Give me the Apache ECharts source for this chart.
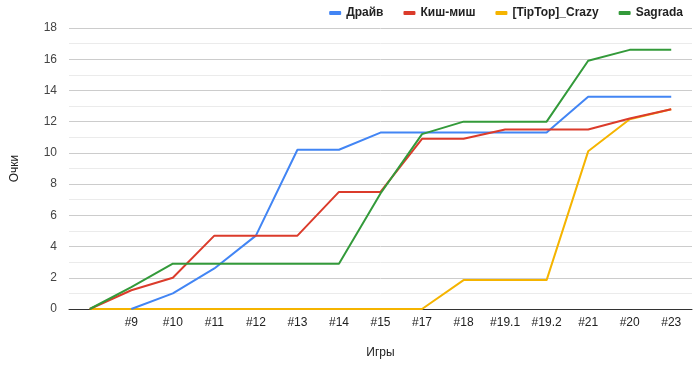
<!DOCTYPE html>
<html><head><meta charset="utf-8">
<script src="https://cdn.jsdelivr.net/npm/echarts@6/dist/echarts.min.js"></script>
<style>html,body{margin:0;padding:0;background:#fff}#c{width:700px;height:370px}</style>
</head><body><div id="c"></div>
<script>
var categories = ["", "#9", "#10", "#11", "#12", "#13", "#14", "#15", "#17", "#18", "#19.1", "#19.2", "#21", "#20", "#23"];
var seriesNames = ["Драйв", "Киш-миш", "[TipTop]_Crazy", "Sagrada"];
var drive   = [null, 0, 1.0, 2.6, 4.7, 10.2, 10.2, 11.3, 11.3, 11.3, 11.3, 11.3, 13.6, 13.6, 13.6];
var kishmish= [0, 1.2, 2.0, 4.7, 4.7, 4.7, 7.5, 7.5, 10.9, 10.9, 11.5, 11.5, 11.5, 12.2, 12.8];
var tiptop  = [0, 0, 0, 0, 0, 0, 0, 0, 0, 1.85, 1.85, 1.85, 10.1, 12.15, 12.8];
var sagrada = [0, 1.4, 2.9, 2.9, 2.9, 2.9, 2.9, 7.4, 11.2, 12.0, 12.0, 12.0, 15.9, 16.6, 16.6];
var yTicks = {min: 0, max: 18, interval: 2};
var colors = ["#4285f4", "#db3b2b", "#f5b400", "#339a3a"];
var dataList = [drive, kishmish, tiptop, sagrada];

var chart = echarts.init(document.getElementById('c'), null, {renderer: 'canvas'});
var series = seriesNames.map(function (n, i) {
  return {
    name: n, type: 'line', data: dataList[i], showSymbol: false, symbol: 'none',
    connectNulls: false, z: i === 2 ? 1 : 2 + i,
    lineStyle: {width: 2, color: colors[i]}, itemStyle: {color: colors[i]}
  };
});
chart.setOption({
  animation: false,
  color: colors,
  textStyle: {fontFamily: '"Liberation Sans", Arial, sans-serif'},
  legend: {
    data: seriesNames.map(function (n, i) { return {name: n, icon: 'roundRect'}; }),
    right: 12, top: 2, itemWidth: 12, itemHeight: 4, itemGap: 20,
    textStyle: {fontSize: 12, fontWeight: 'bold', color: '#222', fontFamily: '"Liberation Sans", Arial, sans-serif'}
  },
  grid: {left: 69, right: 8, top: 28, bottom: 61, containLabel: false},
  xAxis: {
    type: 'category', data: categories, boundaryGap: true,
    name: 'Игры', nameLocation: 'middle', nameGap: 38,
    nameTextStyle: {fontSize: 12, color: '#222'},
    axisLine: {lineStyle: {color: '#333', width: 1}},
    axisTick: {show: false},
    axisLabel: {fontSize: 12, color: '#222', margin: 8, interval: 0}
  },
  yAxis: {
    type: 'value', min: yTicks.min, max: yTicks.max, interval: yTicks.interval,
    name: 'Очки', nameLocation: 'middle', nameGap: 48, nameRotate: 90,
    nameTextStyle: {fontSize: 12, color: '#222'},
    axisLine: {show: false}, axisTick: {show: false},
    axisLabel: {fontSize: 12, color: '#444', margin: 12},
    splitLine: {lineStyle: {color: '#cccccc', width: 1}},
    minorTick: {show: false, splitNumber: 2},
    minorSplitLine: {show: true, lineStyle: {color: '#ebebeb', width: 1}}
  },
  series: series
});
</script></body></html>
